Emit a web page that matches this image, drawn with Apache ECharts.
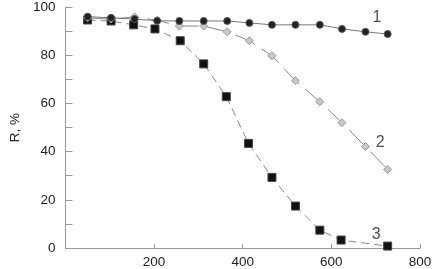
<!DOCTYPE html>
<html><head><meta charset="utf-8">
<script src="https://cdn.jsdelivr.net/npm/echarts@6/dist/echarts.min.js"></script>
<style>html,body{margin:0;padding:0;background:#fff}#c{width:435px;height:269px}</style>
</head><body><div id="c"></div>
<script>
const x1 = [50,103,156,207,257,312,365,415,466,519,574,624,677,727];
const r1 = [96,95.5,95,94.3,94.2,94.2,94.2,93.4,92.6,92.6,92.6,90.9,89.7,88.8];
const x2 = [50,103,156,207,257,312,365,415,466,519,574,624,677,727];
const r2 = [95.5,95,95.9,94.5,92.1,92.1,89.7,86,79.8,69.4,60.7,52,42.1,32.6];
const x3 = [50,103,154,202,259,312,363,413,466,519,574,622,727];
const r3 = [94.6,94.2,92.6,90.9,86,76.4,62.8,43.4,29.3,17.4,7.4,3.3,0.8];
const curveNames = ['1','2','3'];
const nameX = [703,710,701];
const nameY = [95.5,43.8,5.4];
const xTicks = [200,400,600,800];
const yTicks = [0,20,40,60,80,100];

const pairs = (xs, ys) => xs.map((x,i)=>[x, ys[i]]);
const font = 'Liberation Sans, Arial, sans-serif';
const chart = echarts.init(document.getElementById('c'));
chart.setOption({
  animation:false,
  grid:{left:56, right:15, top:7, bottom:20},
  xAxis:{type:'value', min:0, max:800, interval:200,
    axisLine:{lineStyle:{color:'#999', width:1}},
    axisTick:{show:true, inside:true, length:4, lineStyle:{color:'#999'}},
    splitLine:{show:false},
    axisLabel:{color:'#222', fontSize:13.5, fontFamily:font, margin:7,
      formatter:v=> xTicks.includes(v) ? String(v) : ''}},
  yAxis:{type:'value', min:0, max:100, interval:10, name:'R, %', nameLocation:'middle', nameGap:42,
    nameTextStyle:{color:'#222', fontSize:13.5, fontFamily:font},
    axisLine:{show:true, lineStyle:{color:'#999', width:1}},
    axisTick:{show:true, inside:true, length:7, lineStyle:{color:'#999'}},
    splitLine:{show:false},
    axisLabel:{color:'#222', fontSize:13.5, fontFamily:font, margin:10,
      formatter:v=> yTicks.includes(v) ? String(v) : ''}},
  series:[
    {type:'line', data:pairs(x3,r3), symbol:'rect', symbolSize:8, z:2,
     lineStyle:{color:'#888', width:1, type:[8,5]},
     itemStyle:{color:'#111', borderColor:'#444', borderWidth:1}},
    {type:'line', data:pairs(x2,r2), symbol:'diamond', symbolSize:8, z:3,
     lineStyle:{color:'#888', width:1, type:[22,8]},
     itemStyle:{color:'#c8c8c8', borderColor:'#999', borderWidth:1}},
    {type:'line', data:pairs(x1,r1), symbol:'circle', symbolSize:7, z:4,
     lineStyle:{color:'#777', width:1},
     itemStyle:{color:'#222', borderColor:'#555', borderWidth:1}},
    {type:'scatter', silent:true, symbolSize:1, itemStyle:{color:'rgba(0,0,0,0)'},
     data:nameX.map((x,i)=>({value:[x,nameY[i]], name:curveNames[i]})),
     label:{show:true, position:'inside', formatter:p=>p.name, color:'#222', fontSize:16, fontFamily:font}}
  ]
});
</script></body></html>
